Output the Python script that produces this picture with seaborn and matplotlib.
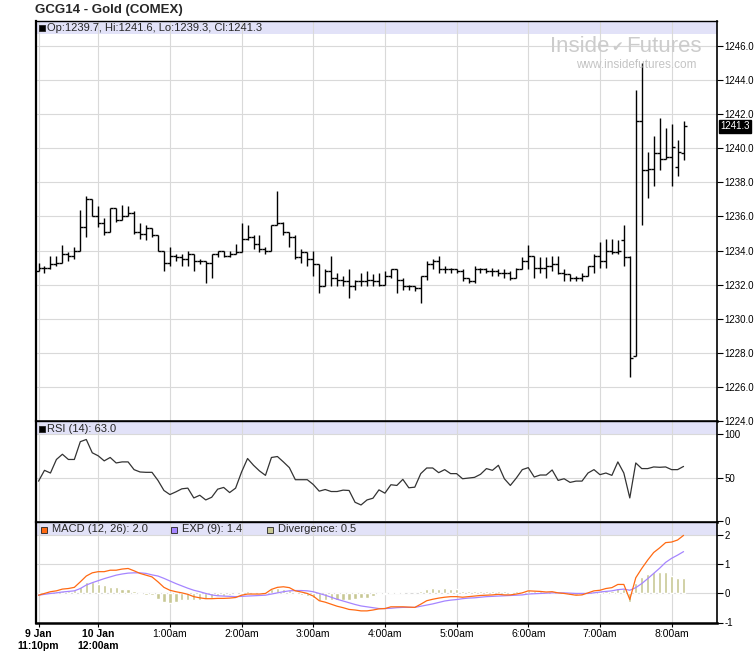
import matplotlib

matplotlib.use("Agg")
import matplotlib.pyplot as plt
from matplotlib.patches import Rectangle
from matplotlib.transforms import offset_copy
import numpy as np
import pandas as pd
import seaborn as sns

# 5-minute bars from 9 Jan 11:10pm to 10 Jan 8:10am (bar index on the x axis)
opens = [1232.8, 1233.0, 1233.0, 1233.2, 1233.3, 1233.8, 1233.7, 1234.0, 1235.4, 1237.0,
         1236.0, 1235.6, 1235.1, 1236.5, 1235.8, 1236.0, 1236.2, 1235.1, 1235.0, 1235.3,
         1234.9, 1234.0, 1233.3, 1233.7, 1233.6, 1233.5, 1233.8, 1233.4, 1233.4, 1233.3,
         1233.8, 1234.0, 1233.7, 1233.8, 1233.9, 1234.7, 1234.8, 1234.4, 1234.1, 1234.0,
         1235.5, 1235.6, 1235.1, 1234.8, 1233.6, 1233.9, 1233.5, 1233.2, 1231.9, 1232.8,
         1232.4, 1232.3, 1232.2, 1231.9, 1232.2, 1232.2, 1232.3, 1232.2, 1232.0, 1232.5,
         1232.9, 1232.3, 1231.9, 1231.9, 1231.8, 1232.5, 1233.2, 1233.4, 1232.9, 1232.9,
         1232.9, 1232.8, 1232.4, 1232.2, 1232.9, 1232.9, 1232.8, 1232.8, 1232.7, 1232.7,
         1232.4, 1232.9, 1233.4, 1233.7, 1233.0, 1233.0, 1233.1, 1233.2, 1232.7, 1232.6,
         1232.4, 1232.4, 1232.5, 1233.1, 1233.7, 1233.4, 1234.0, 1233.9, 1234.6, 1233.6,
         1227.8, 1241.6, 1238.7, 1238.8, 1239.7, 1239.4, 1239.5, 1238.9, 1239.7]
highs = [1233.3, 1233.1, 1233.7, 1233.7, 1234.3, 1233.9, 1234.2, 1236.4, 1237.2, 1237.0,
         1236.6, 1235.9, 1236.5, 1236.5, 1236.7, 1236.6, 1236.3, 1235.6, 1235.5, 1235.3,
         1234.9, 1234.0, 1234.2, 1233.8, 1233.8, 1234.0, 1233.8, 1233.5, 1233.4, 1233.8,
         1234.0, 1234.0, 1234.0, 1234.4, 1235.6, 1235.5, 1234.9, 1234.9, 1234.2, 1235.5,
         1237.5, 1235.7, 1235.1, 1234.9, 1234.1, 1233.9, 1234.0, 1233.2, 1232.9, 1233.7,
         1232.7, 1232.5, 1232.9, 1232.3, 1232.7, 1232.8, 1232.6, 1232.7, 1232.8, 1232.9,
         1232.9, 1232.4, 1232.0, 1231.9, 1232.5, 1233.4, 1233.5, 1233.7, 1233.1, 1233.0,
         1232.9, 1232.9, 1232.4, 1233.1, 1233.0, 1233.0, 1233.0, 1232.9, 1232.9, 1232.8,
         1233.0, 1233.6, 1234.3, 1233.7, 1233.6, 1233.6, 1233.7, 1233.7, 1232.9, 1232.6,
         1232.5, 1232.7, 1233.1, 1233.8, 1234.5, 1234.7, 1234.7, 1234.6, 1235.5, 1233.7,
         1243.4, 1245.0, 1239.8, 1240.7, 1241.8, 1241.2, 1241.4, 1240.5, 1241.6]
lows = [1232.8, 1232.7, 1232.9, 1233.1, 1233.3, 1233.4, 1233.5, 1234.0, 1234.8, 1236.0,
        1235.4, 1234.9, 1235.1, 1235.7, 1235.8, 1236.0, 1235.0, 1234.7, 1234.6, 1234.8,
        1234.0, 1232.8, 1233.1, 1233.4, 1233.1, 1233.1, 1232.8, 1233.2, 1232.1, 1232.4,
        1233.6, 1233.6, 1233.6, 1233.8, 1233.9, 1234.6, 1234.1, 1233.9, 1233.8, 1234.0,
        1235.5, 1234.9, 1234.2, 1233.5, 1233.3, 1233.1, 1232.5, 1231.5, 1231.9, 1231.9,
        1231.9, 1231.9, 1231.2, 1231.7, 1231.9, 1231.9, 1231.9, 1231.9, 1232.0, 1232.4,
        1231.5, 1231.7, 1231.7, 1231.6, 1230.9, 1232.3, 1232.9, 1232.7, 1232.7, 1232.7,
        1232.7, 1232.2, 1232.1, 1232.1, 1232.7, 1232.7, 1232.5, 1232.5, 1232.4, 1232.3,
        1232.4, 1232.9, 1232.9, 1232.4, 1232.7, 1232.4, 1232.8, 1232.6, 1232.2, 1232.2,
        1232.2, 1232.2, 1232.5, 1232.7, 1233.0, 1233.0, 1233.8, 1233.8, 1233.1, 1226.6,
        1227.8, 1235.5, 1237.1, 1237.8, 1238.7, 1239.4, 1237.8, 1238.4, 1239.3]
closes = [1233.0, 1233.0, 1233.2, 1233.3, 1233.8, 1233.7, 1234.0, 1235.4, 1237.0, 1236.0,
          1235.6, 1235.1, 1236.5, 1235.8, 1236.0, 1236.2, 1235.1, 1235.0, 1235.3, 1234.9,
          1234.0, 1233.3, 1233.7, 1233.6, 1233.5, 1233.8, 1233.4, 1233.4, 1233.3, 1233.8,
          1234.0, 1233.7, 1233.8, 1233.9, 1234.7, 1234.8, 1234.4, 1234.1, 1234.0, 1235.5,
          1235.6, 1235.1, 1234.8, 1233.6, 1233.9, 1233.5, 1233.2, 1231.9, 1232.8, 1232.4,
          1232.3, 1232.2, 1231.9, 1232.2, 1232.2, 1232.3, 1232.2, 1232.0, 1232.5, 1232.9,
          1232.3, 1231.9, 1231.9, 1231.8, 1232.5, 1233.2, 1233.4, 1232.9, 1232.9, 1232.9,
          1232.8, 1232.4, 1232.2, 1232.9, 1232.9, 1232.8, 1232.8, 1232.7, 1232.7, 1232.4,
          1232.9, 1233.4, 1233.7, 1233.0, 1233.0, 1233.1, 1233.2, 1232.7, 1232.6, 1232.4,
          1232.4, 1232.5, 1233.1, 1233.7, 1233.4, 1234.0, 1233.9, 1234.0, 1233.6, 1227.7,
          1241.6, 1238.7, 1238.8, 1239.7, 1239.4, 1239.5, 1240.1, 1239.8, 1241.3]

rsi = [46, 58.5, 55.4, 71, 77, 71, 71, 91.5, 94, 78.7,
       75.2, 69.4, 73.3, 67, 68.2, 68.2, 59.3, 56.6, 56.2, 56.2,
       46.9, 35.3, 30.6, 33.7, 37.2, 38, 26.7, 29.8, 24.4, 27.5,
       36.8, 38.8, 32.9, 38, 56.6, 72.1, 64.3, 57.8, 52.7, 73.3,
       74.4, 68.2, 61.6, 47.7, 47.7, 47.7, 42.2, 34.5, 36.4, 34.1,
       34.1, 35.7, 35.3, 21.7, 18.6, 24.4, 26.4, 36, 32.2, 41.9,
       41.1, 48.1, 38.4, 39.1, 54.7, 61.2, 61.2, 55.8, 59.3, 54.7,
       54.7, 48.8, 49.6, 50.4, 53.9, 60.5, 58.5, 64.3, 48.8, 41.1,
       49.6, 59.3, 61.6, 50.8, 53.1, 53.1, 58.9, 46.9, 48.8, 44.6,
       46.1, 46.1, 55.4, 59.3, 53.5, 55.4, 52.7, 68.2, 55.4, 26.7,
       67, 60.5, 60.5, 62.4, 62, 62.4, 59.3, 59.3, 63.0]

macd = [-0.06, 0, 0.06, 0.09, 0.15, 0.17, 0.21, 0.40, 0.60, 0.71,
        0.75, 0.75, 0.80, 0.80, 0.84, 0.86, 0.78, 0.69, 0.63, 0.57,
        0.40, 0.21, 0.11, 0.06, 0.02, -0.03, -0.11, -0.15, -0.18, -0.18,
        -0.17, -0.17, -0.16, -0.14, -0.06, -0.02, -0.02, -0.02, 0, 0.14,
        0.21, 0.23, 0.2, 0.09, 0.05, 0, -0.09, -0.25, -0.3, -0.37,
        -0.44, -0.49, -0.55, -0.57, -0.6, -0.6, -0.57, -0.53, -0.52, -0.46,
        -0.46, -0.46, -0.47, -0.48, -0.37, -0.25, -0.2, -0.16, -0.13, -0.11,
        -0.11, -0.13, -0.11, -0.09, -0.07, -0.06, -0.05, -0.03, -0.05, -0.05,
        -0.02, 0.02, 0.09, 0.08, 0.07, 0.05, 0.06, 0.02, 0, -0.03,
        -0.06, -0.05, 0.02, 0.09, 0.11, 0.17, 0.2, 0.31, 0.31, -0.21,
        0.54, 0.86, 1.15, 1.41, 1.57, 1.75, 1.77, 1.84, 2.0]
signal = [-0.06, -0.03, 0, 0.02, 0.05, 0.07, 0.09, 0.17, 0.29, 0.37,
          0.44, 0.51, 0.57, 0.63, 0.67, 0.70, 0.71, 0.71, 0.69, 0.64,
          0.60, 0.52, 0.43, 0.34, 0.26, 0.18, 0.11, 0.06, 0, -0.05,
          -0.08, -0.09, -0.10, -0.11, -0.10, -0.09, -0.08, -0.07, -0.06, -0.02,
          0.02, 0.06, 0.09, 0.1, 0.1, 0.09, 0.06, 0, -0.06, -0.13,
          -0.2, -0.26, -0.32, -0.38, -0.43, -0.46, -0.49, -0.52, -0.52, -0.51,
          -0.49, -0.48, -0.48, -0.48, -0.44, -0.40, -0.36, -0.31, -0.26, -0.23,
          -0.21, -0.18, -0.16, -0.15, -0.13, -0.11, -0.1, -0.09, -0.08, -0.07,
          -0.06, -0.05, -0.02, -0.01, 0, 0.01, 0.02, 0.02, 0.02, 0.01,
          0, 0, 0, 0.02, 0.05, 0.07, 0.09, 0.13, 0.15, 0.11,
          0.2, 0.34, 0.51, 0.69, 0.87, 1.07, 1.21, 1.32, 1.44]
divergence = [0.03, 0.05, 0.06, 0.07, 0.1, 0.1, 0.12, 0.23, 0.39, 0.38,
              0.31, 0.29, 0.23, 0.21, 0.17, 0.16, 0.07, -0.02, -0.06, -0.07,
              -0.2, -0.31, -0.32, -0.29, -0.24, -0.22, -0.22, -0.21, -0.18, -0.14,
              -0.1, -0.08, -0.06, -0.02, 0.04, 0.07, 0.06, 0.05, 0.06, 0.16,
              0.19, 0.17, 0.11, -0.01, -0.05, -0.09, -0.15, -0.25, -0.24, -0.24,
              -0.24, -0.23, -0.23, -0.19, -0.17, -0.14, -0.1, -0.03, -0.03, 0.05,
              0.04, 0.04, 0.01, 0, 0.08, 0.16, 0.19, 0.16, 0.18, 0.16,
              0.16, 0.1, 0.09, 0.09, 0.09, 0.09, 0.09, 0.08, 0.08, 0.06,
              0.08, 0.1, 0.13, 0.09, 0.08, 0.05, 0.04, 0, -0.02, -0.04,
              -0.06, -0.05, 0.02, 0.07, 0.07, 0.1, 0.1, 0.18, 0.16, -0.29,
              0.37, 0.55, 0.67, 0.74, 0.74, 0.74, 0.6, 0.53, 0.53]

tick_bars = [0, 10, 22, 34, 46, 58, 70, 82, 94, 106]
tick_labels = ["9 Jan\n11:10pm", "10 Jan\n12:00am", "1:00am", "2:00am", "3:00am",
               "4:00am", "5:00am", "6:00am", "7:00am", "8:00am"]

df = pd.DataFrame({"bar": np.arange(len(closes)), "open": opens, "high": highs,
                   "low": lows, "close": closes, "rsi": rsi, "macd": macd,
                   "signal": signal, "divergence": divergence})

sns.set_style("white")
plt.rcParams["font.family"] = ["Liberation Sans", "DejaVu Sans"]
plt.rcParams["axes.unicode_minus"] = False

W_PX, H_PX = 755, 663
fig = plt.figure(figsize=(W_PX / 100, H_PX / 100), dpi=100)


def panel(top, bottom):
    left, right = 35.7, 717
    return fig.add_axes([left / W_PX, 1 - bottom / H_PX, (right - left) / W_PX, (bottom - top) / H_PX])


ax_p = panel(20.5, 421)
ax_r = panel(421, 522)
ax_m = panel(522, 622.5)

band = "#e2e2f8"
grid_c = "#d9d9d9"
for ax, band_px in [(ax_p, 13), (ax_r, 13), (ax_m, 13.5)]:
    ax.set_xlim(-0.47, 113.6)
    ax.set_axisbelow(True)
    ax.grid(True, color=grid_c, lw=0.8)
    ax.yaxis.tick_right()
    ax.tick_params(axis="y", direction="out", length=4, width=0.8, labelsize=7, pad=1.5,
                   right=True, left=False, colors="black")
    ax.set_xticks(tick_bars)
    h = band_px / (ax.get_position().height * H_PX)
    ax.add_patch(Rectangle((0, 1 - h), 1, h, transform=ax.transAxes, color=band, zorder=0.1, lw=0))
    for s in ax.spines.values():
        s.set_color("black")
    ax.spines["left"].set_linewidth(1.6)
    ax.spines["right"].set_linewidth(1.2)
    ax.spines["top"].set_linewidth(1.0)
    ax.spines["bottom"].set_linewidth(1.8)

for ax in (ax_p, ax_r):
    ax.tick_params(axis="x", length=0, labelbottom=False)

# price bars (OHLC)
x = df["bar"].to_numpy()
ax_p.vlines(x, df["low"], df["high"], color="black", lw=1.0)
ax_p.hlines(df["open"], x - 0.5, x, color="black", lw=1.0)
ax_p.hlines(df["close"], x, x + 0.5, color="black", lw=1.0)
ax_p.set_ylim(1224, 1247.5)
ax_p.set_yticks(np.arange(1224, 1247, 2))
ax_p.set_yticklabels([f"{v:.1f}" for v in np.arange(1224, 1247, 2)])

last = closes[-1]
ax_p.annotate(f"{last:.1f}", xy=(1, last), xycoords=("axes fraction", "data"),
              xytext=(3, 0), textcoords="offset pixels", ha="left", va="center",
              fontsize=7, color="white",
              bbox=dict(boxstyle="square,pad=0.15", fc="black", ec="black"))

# RSI
sns.lineplot(data=df, x="bar", y="rsi", ax=ax_r, color="#333333", lw=0.9)
ax_r.set_ylim(-1, 115.3)
ax_r.set_yticks([0, 50, 100])

# MACD
ax_m.bar(df["bar"], df["divergence"], width=0.55, color="#c8c894", zorder=1)
sns.lineplot(data=df, x="bar", y="signal", ax=ax_m, color="#a585ff", lw=0.9, zorder=2)
sns.lineplot(data=df, x="bar", y="macd", ax=ax_m, color="#ff6a13", lw=0.9, zorder=3)
ax_m.set_ylim(-1, 2.46)
ax_m.set_yticks([-1, 0, 1, 2])
ax_m.set_yticklabels(["-1", "0", "1", "2"])
ax_m.set_xticklabels(tick_labels)
ax_m.tick_params(axis="x", direction="out", length=3, width=0.8, labelsize=7.5, pad=2,
                 bottom=True, colors="black")
for i, lbl in enumerate(ax_m.get_xticklabels()):
    lbl.set_multialignment("center")
    if i < 2:
        lbl.set_fontweight("bold")

for ax in (ax_p, ax_r, ax_m):
    ax.set_xlabel("")
    ax.set_ylabel("")

# panel headers
hdr = dict(xycoords="axes fraction", textcoords="offset pixels", va="center", fontsize=8)


def square(ax, dx, color, dy=-7.5):
    tr = offset_copy(ax.transAxes, fig=fig, x=dx, y=dy, units="dots")
    ax.plot([0], [1], marker="s", ms=4.3, mfc=color, mec="#222222", mew=0.6,
            transform=tr, clip_on=False, zorder=5)


square(ax_p, 6.5, "black")
ax_p.annotate("Op:1239.7, Hi:1241.6, Lo:1239.3, Cl:1241.3", xy=(0, 1), xytext=(11.5, -7.5), **hdr)
square(ax_r, 6.5, "black")
ax_r.annotate("RSI (14): 63.0", xy=(0, 1), xytext=(11.5, -7.5), **hdr)
square(ax_m, 8, "#ff6a13")
ax_m.annotate("MACD (12, 26): 2.0", xy=(0, 1), xytext=(16, -7.5), **hdr)
square(ax_m, 138, "#a585ff")
ax_m.annotate("EXP (9): 1.4", xy=(0, 1), xytext=(146, -7.5), **hdr)
square(ax_m, 234, "#c8c894")
ax_m.annotate("Divergence: 0.5", xy=(0, 1), xytext=(242, -7.5), **hdr)

# title and watermark
fig.text(35 / W_PX, 1 - 10 / H_PX, "GCG14 - Gold (COMEX)", fontsize=9.5, fontweight="bold",
         ha="left", va="center")
wm = "#cccccc"
fig.text(609 / W_PX, 1 - 47 / H_PX, "Inside", fontsize=16, color=wm, ha="right", va="center")
fig.text(617.5 / W_PX, 1 - 47 / H_PX, "\u2714", fontsize=10, color=wm, ha="center", va="center",
         family="DejaVu Sans")
fig.text(626 / W_PX, 1 - 47 / H_PX, "Futures", fontsize=16, color=wm, ha="left", va="center")
fig.text(636 / W_PX, 1 - 65 / H_PX, "www.insidefutures.com", fontsize=8.5, color="#c4c4c4",
         ha="center", va="center")

fig.savefig("out.png", dpi=100, facecolor="white")
